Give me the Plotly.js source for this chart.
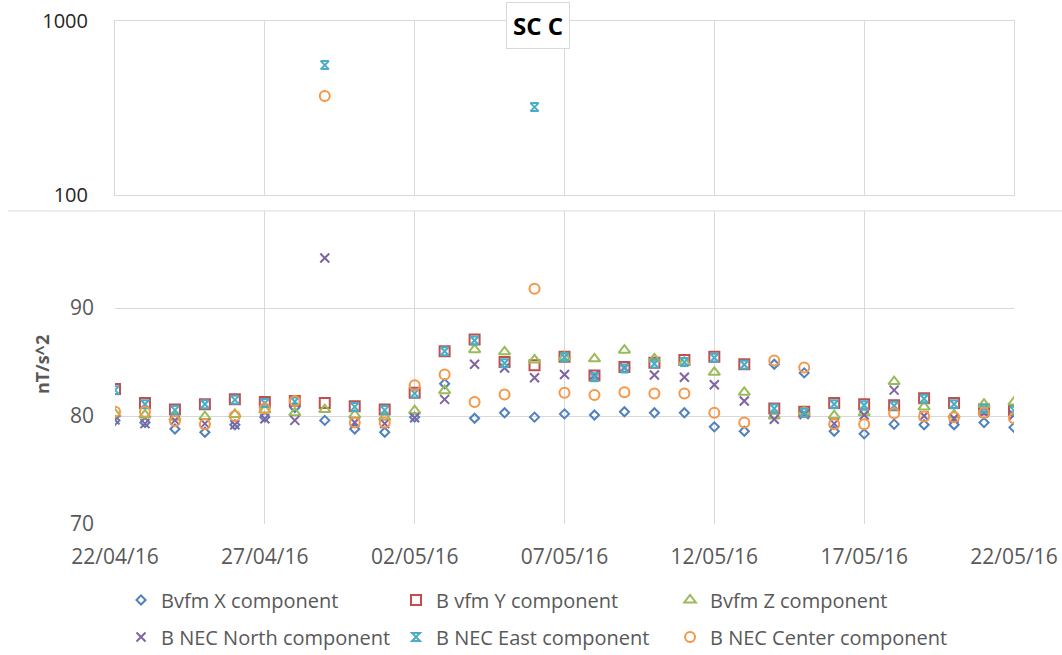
<!DOCTYPE html>
<html>
<head>
<meta charset="utf-8">
<script src="https://cdn.plot.ly/plotly-3.0.1.min.js"></script>
<style>html,body{margin:0;padding:0;background:#fff;}#chart{width:1062px;height:655px;}</style>
</head>
<body>
<div id="chart"></div>
<script>
var dates = ['2016-04-22','2016-04-23','2016-04-24','2016-04-25','2016-04-26','2016-04-27','2016-04-28','2016-04-29','2016-04-30','2016-05-01',
             '2016-05-02','2016-05-03','2016-05-04','2016-05-05','2016-05-06','2016-05-07','2016-05-08','2016-05-09','2016-05-10','2016-05-11',
             '2016-05-12','2016-05-13','2016-05-14','2016-05-15','2016-05-16','2016-05-17','2016-05-18','2016-05-19','2016-05-20','2016-05-21','2016-05-22'];
var tickDates = ['2016-04-22','2016-04-27','2016-05-02','2016-05-07','2016-05-12','2016-05-17','2016-05-22'];

var bvfmX = [79.6,79.4,78.8,78.5,79.2,79.9,80.8,79.6,78.8,78.5,79.9,83.0,79.8,80.3,79.9,80.2,80.1,80.4,80.3,80.3,79.0,78.6,84.8,84.0,78.6,78.35,79.25,79.2,79.2,79.4,78.95];
var bvfmY = [82.5,81.2,80.6,81.1,81.55,81.3,81.4,81.2,80.9,80.6,82.15,86.0,87.1,85.0,84.7,85.5,83.75,84.55,84.95,85.2,85.5,84.8,80.7,80.4,81.2,81.1,81.0,81.65,81.2,80.6,80.55];
var bvfmZ = [80.2,80.1,79.9,79.95,80.15,80.55,80.3,80.6,80.1,79.9,80.5,82.35,86.15,85.95,85.2,85.45,85.3,86.1,85.3,85.0,84.05,82.2,80.0,80.4,80.05,80.3,83.2,80.85,80.1,81.1,81.3];
var necNorth = [79.65,79.3,79.6,79.3,79.2,79.75,79.6,94.65,79.4,79.3,79.85,81.55,84.8,84.45,83.55,83.85,83.8,84.5,83.8,83.6,82.9,81.4,79.7,80.15,79.3,80.1,82.4,80.0,79.8,80.3,80.1];
var necEast = [82.4,81.1,80.55,81.1,81.5,81.2,81.35,558,80.85,80.55,82.1,86.0,87.0,84.9,320,85.45,83.6,84.4,84.85,85.0,85.4,84.75,80.7,80.3,81.1,81.0,80.95,81.6,81.1,80.7,80.5];
var necCenter = [80.4,80.4,79.55,79.25,80.0,80.7,81.4,371,79.4,79.4,82.85,83.85,81.3,82.0,91.8,82.15,81.95,82.2,82.1,82.1,80.3,79.4,85.15,84.5,79.25,79.25,80.25,79.95,79.9,80.3,79.8];

var seriesNames = ['Bvfm X component','B vfm Y component','Bvfm Z component','B NEC North component','B NEC East component','B NEC Center component'];
var seriesData = [bvfmX, bvfmY, bvfmZ, necNorth, necEast, necCenter];
var colors = ['#4F81BD','#C0504D','#9BBB59','#8064A2','#4BACC6','#F79646'];
var symbols = ['diamond-open','square-open','triangle-up-open','x-thin-open','hourglass-open','circle-open'];
var sizes = [7,10,10,9,8,10];
var legendIds = ['legend','legend2','legend3','legend4','legend5','legend6'];

var traces = [];
for (var i = 0; i < seriesData.length; i++) {
  var mk = {symbol: symbols[i], size: sizes[i], color: colors[i], line: {color: colors[i], width: 2}};
  // lower (linear) panel: values below 100
  var low = seriesData[i].map(function (v) { return v < 100 ? v : null; });
  traces.push({x: dates, y: low, name: seriesNames[i], type: 'scatter', mode: 'markers',
               marker: mk, xaxis: 'x', yaxis: 'y', legend: legendIds[i]});
}
for (var j = 0; j < seriesData.length; j++) {
  var mk2 = {symbol: symbols[j], size: sizes[j], color: colors[j], line: {color: colors[j], width: 2}};
  // upper (log) panel: values of 100 and above
  var high = seriesData[j].map(function (v) { return v >= 100 ? v : null; });
  traces.push({x: dates, y: high, name: seriesNames[j], type: 'scatter', mode: 'markers',
               marker: mk2, xaxis: 'x2', yaxis: 'y2', showlegend: false});
}

var fontFam = 'Open Sans, Noto Sans, sans-serif';
var grid = '#d9d9d9';
var layout = {
  width: 1062, height: 655,
  margin: {l: 115, r: 48, t: 21, b: 131, autoexpand: false},
  paper_bgcolor: '#ffffff', plot_bgcolor: '#ffffff',
  font: {family: fontFam, color: '#595959'},
  showlegend: true,
  xaxis: {type: 'date', domain: [0, 1], anchor: 'y', range: ['2016-04-22', '2016-05-22'],
          tickmode: 'array', tickvals: tickDates, tickformat: '%d/%m/%y',
          showgrid: true, gridcolor: grid, gridwidth: 1, zeroline: false, showline: false,
          ticks: '', ticklabelstandoff: 18, tickfont: {size: 21, color: '#595959'}},
  yaxis: {domain: [0, 0.6223], anchor: 'x', range: [70, 99], tick0: 70, dtick: 10,
          showgrid: true, gridcolor: grid, zeroline: false, showline: false,
          ticks: '', ticklabelstandoff: 20, tickfont: {size: 21, color: '#595959'}},
  xaxis2: {type: 'date', domain: [0, 1], anchor: 'y2', matches: 'x', range: ['2016-04-22', '2016-05-22'],
           tickmode: 'array', tickvals: tickDates, showticklabels: false,
           showgrid: true, gridcolor: grid, zeroline: false, showline: true, mirror: true, linecolor: grid, ticks: ''},
  yaxis2: {type: 'log', domain: [0.654, 1], anchor: 'x2', range: [2, 3],
           tickmode: 'array', tickvals: [100, 1000], ticktext: ['100', '1000'],
           showgrid: false, zeroline: false, showline: true, mirror: true, linecolor: grid,
           ticks: '', ticklabelstandoff: 22, tickfont: {size: 20, color: '#262626'}},
  shapes: [{type: 'line', xref: 'paper', yref: 'paper', x0: -0.119, x1: 1.0534, y0: 0.6223, y1: 0.6223,
            line: {color: grid, width: 1}}],
  annotations: [
    {text: '<b>SC C</b>', xref: 'paper', yref: 'paper', x: 0.4705, y: 0.991, xanchor: 'center', yanchor: 'middle',
     showarrow: false, font: {family: fontFam, size: 24, color: '#000000'},
     bgcolor: '#ffffff', bordercolor: '#d9d9d9', borderwidth: 1, borderpad: 6},
    {text: '<b>nT/s^2</b>', xref: 'paper', yref: 'paper', x: -0.0812, y: 0.316, xanchor: 'center', yanchor: 'middle',
     textangle: -90, showarrow: false, font: {family: fontFam, size: 18, color: '#595959'}}
  ]
};

// one legend per entry, laid out as 3 columns x 2 rows
var legX = [0.0067, 0.3126, 0.6174, 0.0067, 0.3126, 0.6174];
var legY = [-0.151, -0.151, -0.151, -0.2247, -0.2247, -0.2247];
for (var k = 0; k < legendIds.length; k++) {
  layout[legendIds[k]] = {orientation: 'h', x: legX[k], xanchor: 'left', y: legY[k], yanchor: 'middle',
                          font: {size: 20, color: '#595959'}, bgcolor: 'rgba(0,0,0,0)'};
}

Plotly.newPlot('chart', traces, layout, {displayModeBar: false, staticPlot: true});
</script>
</body>
</html>
